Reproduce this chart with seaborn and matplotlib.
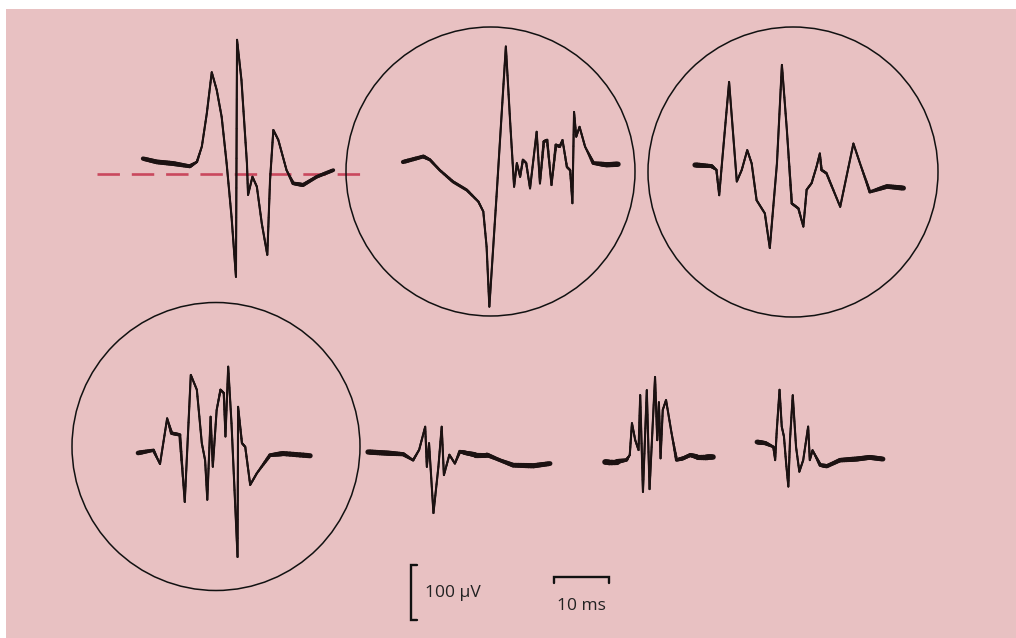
import numpy as np
import matplotlib
matplotlib.use("Agg")
import matplotlib.pyplot as plt
from matplotlib.patches import Ellipse
from matplotlib.collections import LineCollection
import seaborn as sns

# ---------------- data: time (ms) / amplitude (µV) relative to each trace start ----------------
t1 = [0, 2.5, 5.5, 8.5, 9.8, 10.7, 11.6, 12.5, 13.4, 14.3, 15.2, 16.1, 16.9, 17.1, 17.9, 18.9, 19.1,
      19.9, 20.7, 21.6, 22.6, 23.1, 23.7, 24.6, 26.1, 27.3, 29.1, 31.6, 34.6]
v1 = [28, 22, 19, 14, 22, 50, 110, 185, 153, 104, 20, -78, -187, 244, 171, 19, -38,
      -5, -23, -90, -147, -11, 80, 62, 7, -17, -20, -5, 7]

t2 = [0, 3.7, 4.9, 6.7, 9.1, 11.6, 13.7, 14.6, 15.2, 15.7, 17.0, 18.7, 19.5, 20.2, 20.7, 21.3, 21.8,
      22.4, 23.1, 24.3, 24.9, 25.6, 26.2, 27.0, 27.8, 28.5, 29.0, 29.8, 30.4, 30.8, 31.1, 31.5, 32.1,
      33.1, 34.6, 37.0, 39.1]
v2 = [0, 10, 4, -15, -36, -51, -72, -90, -154, -263, -63, 210, 70, -45, -2, -27, 4,
      -2, -48, 55, -39, 37, 40, -42, 31, 28, 40, -9, -15, -75, 91, 46, 64,
      28, -2, -5, -4]

t3 = [0, 3.0, 3.9, 4.4, 4.9, 6.2, 7.6, 8.5, 9.5, 10.3, 11.2, 12.7, 13.6, 14.9, 15.8, 16.7, 17.6,
      18.8, 19.7, 20.3, 21.2, 22.1, 22.7, 23.0, 23.9, 26.4, 28.8, 30.0, 31.8, 34.9, 37.9]
v3 = [0, -2, -9, -55, 3, 151, -30, -9, 27, 3, -64, -88, -151, 3, 182, 64, -70,
      -79, -112, -45, -33, -3, 21, -9, -15, -76, 39, 3, -49, -39, -42]

t4 = [0, 2.8, 4.0, 5.3, 6.1, 7.6, 8.5, 9.6, 10.7, 11.6, 12.2, 12.6, 13.2, 13.6, 14.3, 15.0, 15.6,
      15.9, 16.4, 17.0, 18.1, 18.2, 18.9, 19.5, 20.4, 21.6, 24.0, 26.4, 31.3]
v4 = [0, 5, -20, 63, 36, 33, -89, 142, 115, 18, -13, -85, 66, -25, 78, 115, 109,
      30, 157, 54, -189, 84, 18, 11, -58, -37, -4, -1, -5]

t5 = [0, 3.4, 6.4, 8.2, 9.3, 10.4, 10.7, 11.1, 11.9, 12.8, 13.4, 13.8, 14.8, 15.8, 16.7, 17.9, 19.5,
      21.6, 24.0, 26.4, 30.1, 33.1]
v5 = [0, -2, -4, -15, 4, 46, -27, 16, -111, -27, 46, -42, -5, -21, 1, -2, -5,
      -5, -15, -24, -25, -21]

t6 = [0, 2.1, 3.9, 4.5, 4.9, 5.5, 6.1, 6.4, 6.9, 7.6, 8.1, 9.1, 9.5, 9.8, 10.1, 10.5, 11.1,
      12.1, 13.0, 14.2, 15.5, 16.7, 19.7]
v6 = [-3, -3, 0, 9, 67, 36, 18, 118, -58, 127, -53, 151, 36, 105, 3, 91, 109,
      49, 0, 3, 9, 6, 6]

t7 = [0, 1.5, 3.0, 3.3, 3.6, 4.1, 4.5, 4.9, 5.3, 5.7, 6.0, 6.5, 7.1, 7.7, 8.4, 9.3, 9.6,
      10.1, 11.5, 12.7, 15.1, 18.1, 20.5, 22.9]
v7 = [0, -2, -9, -33, 22, 95, 28, 10, -39, -81, 4, 85, -9, -54, -33, 28, -33,
      -15, -42, -44, -33, -31, -28, -31]

scale_labels = ["100 µV", "10 ms"]
scale_uv = 100
scale_ms = 10

# ---------------- layout (pixels of the 1016x638 canvas) ----------------
W, H = 1016, 638
PX_PER_MS = 5.5
PX_PER_UV = 0.55
trace_origins = [(143, 174), (403, 162), (695, 165), (138, 453), (368, 452), (605, 460), (757, 442)]
circles = [(490.5, 171.5, 144.5), (793, 172, 145), (216, 446.5, 144)]
baseline_span = (97, 363)
ink = "#1c1212"
pink = "#e8c1c2"


def to_data(px, py):
    return px / PX_PER_MS, (H - py) / PX_PER_UV


sns.set_theme(style="white")
plt.rcParams["font.family"] = ["Open Sans", "DejaVu Sans"]

fig = plt.figure(figsize=(W / 100, H / 100), dpi=100)
fig.patch.set_facecolor("white")
ax = fig.add_axes([6 / W, 0, (W - 6) / W, (H - 9) / H])
ax.set_facecolor(pink)
ax.set_xlim(6 / PX_PER_MS, W / PX_PER_MS)
ax.set_ylim(0, (H - 9) / PX_PER_UV)
ax.set_xticks([])
ax.set_yticks([])
sns.despine(ax=ax, left=True, bottom=True)

# dashed baseline for the first trace
ox1, oy1 = to_data(*trace_origins[0])
x0, _ = to_data(baseline_span[0], 0)
x1, _ = to_data(baseline_span[1], 0)
ax.plot([x0, x1], [oy1, oy1], color="#c9485d", lw=1.9, dashes=(8.5, 4.5), zorder=1)

traces = [(t1, v1), (t2, v2), (t3, v3), (t4, v4), (t5, v5), (t6, v6), (t7, v7)]
for (t, v), org in zip(traces, trace_origins):
    ox, oy = to_data(*org)
    x = np.asarray(t, dtype=float) + ox
    y = np.asarray(v, dtype=float) + oy
    sns.lineplot(x=x, y=y, sort=False, estimator=None, color=ink, lw=1.5, ax=ax, zorder=3)
    # pen-recording look: slow parts drawn thicker, fine subdivision for smooth width changes
    n_sub = 8
    xs, ys, ws = [], [], []
    for i in range(len(x) - 1):
        dx = (x[i + 1] - x[i]) * PX_PER_MS
        dy = (y[i + 1] - y[i]) * PX_PER_UV
        slope = abs(dy) / max(abs(dx), 1e-6)
        w = 1.8 + 3.8 * np.exp(-slope / 0.6)
        for k in range(n_sub):
            f = k / n_sub
            xs.append(x[i] + f * (x[i + 1] - x[i]))
            ys.append(y[i] + f * (y[i + 1] - y[i]))
            ws.append(w)
    xs.append(x[-1]); ys.append(y[-1]); ws.append(ws[-1])
    ws = np.convolve(np.pad(ws, 6, mode="edge"), np.ones(13) / 13, mode="valid")
    segs = [[(xs[i], ys[i]), (xs[i + 1], ys[i + 1])] for i in range(len(xs) - 1)]
    widths = [(ws[i] + ws[i + 1]) / 2 * 0.72 for i in range(len(xs) - 1)]
    lc = LineCollection(segs, linewidths=widths, colors=ink, capstyle="round", zorder=3)
    ax.add_collection(lc)

for cx, cy, r in circles:
    dcx, dcy = to_data(cx, cy)
    ax.add_patch(Ellipse((dcx, dcy), 2 * r / PX_PER_MS, 2 * r / PX_PER_UV,
                         fill=False, edgecolor="#111111", lw=1.1, zorder=2))

# scale bars
vx, vy = to_data(411, 620)
tick = 6 / PX_PER_MS
ax.plot([vx + tick, vx, vx, vx + tick], [vy, vy, vy + scale_uv, vy + scale_uv],
        color="#111111", lw=1.7, solid_joinstyle="miter")
hx, hy = to_data(554, 577)
tick_v = 6 / PX_PER_UV
ax.plot([hx, hx, hx + scale_ms, hx + scale_ms], [hy - tick_v, hy, hy, hy - tick_v],
        color="#111111", lw=1.7, solid_joinstyle="miter")
ax.text(*to_data(425, 593), scale_labels[0], ha="left", va="center", fontsize=12.5, color="#222222")
ax.text(*to_data(581, 606), scale_labels[1], ha="center", va="center", fontsize=12.5, color="#222222")

fig.savefig("out.png", dpi=100, facecolor=fig.get_facecolor())
